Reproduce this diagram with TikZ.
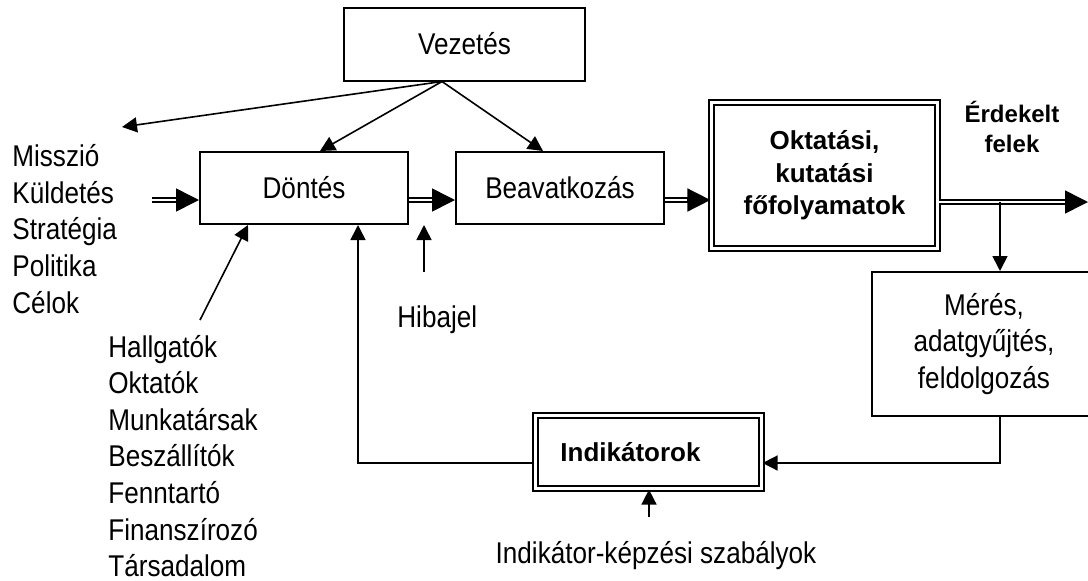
\documentclass[tikz,border=0pt]{standalone}
\usepackage{fontspec}
\setmainfont[FakeStretch=0.87]{Liberation Sans}
\newfontfamily\boldfam{Liberation Sans}
\usetikzlibrary{arrows.meta}
\newcommand{\RegText}{\fontsize{15}{18.3}\selectfont}
\newcommand{\BoldText}{\boldfam\bfseries\fontsize{13}{16.25}\selectfont}
\newcommand{\DblArrow}[3]{%
  \draw[Dbl] (#1) -- ([xshift=-10pt,yshift=#3]#2);
  \draw[BigTip] ([xshift=-11.5pt,yshift=#3]#2) -- ([yshift=#3]#2);}

\begin{document}
\begin{tikzpicture}[x=0.5pt,y=-0.5pt,font=\RegText]
  \tikzstyle{BoxStyle}=[draw,line width=1pt,inner sep=0pt,align=center]
  \tikzstyle{DoubleBox}=[draw,line width=1.1pt,double,double distance=1.2pt,inner sep=0pt,align=center,font=\BoldText]
  \tikzstyle{TextStyle}=[inner sep=0pt,align=left]
  \tikzstyle{Tip}=[line width=0.8pt,-{Triangle[length=7.5pt,width=7.5pt]}]
  \tikzstyle{BigTip}=[line width=0.8pt,-{Triangle[length=11.5pt,width=11.5pt]}]
  \tikzstyle{Dbl}=[line width=0.8pt,double,double distance=1.2pt]
  \useasboundingbox (0,0) rectangle (1088,580);
  \node[BoxStyle,minimum width=120.5pt,minimum height=36.5pt] (vez) at (464.5,44) {Vezetés};
  \node[BoxStyle,minimum width=104pt,minimum height=36pt] (dont) at (304,188) {Döntés};
  \node[BoxStyle,minimum width=104pt,minimum height=36pt] (beav) at (560,188) {Beavatkozás};
  \node[DoubleBox,minimum width=113pt,minimum height=73pt] (okt) at (824.5,175.5) {Oktatási,\\kutatási\\főfolyamatok};
  \node[BoxStyle,minimum width=112pt,minimum height=72pt] (meres) at (984,344) {Mérés,\\adatgyűjtés,\\feldolgozás};
  \node[DoubleBox,minimum width=113pt,minimum height=36.5pt] (ind) at (648.5,452) {Indikátorok\hspace*{18pt}};
  \node[TextStyle,anchor=base west] (misszio) at (12,313) {Misszió\\Küldetés\\Stratégia\\Politika\\Célok};
  \node[TextStyle,anchor=base west] (hallg) at (108,576.7) {Hallgatók\\Oktatók\\Munkatársak\\Beszállítók\\Fenntartó\\Finanszírozó\\Társadalom};
  \node[TextStyle,anchor=base west] (hiba) at (397,327) {Hibajel};
  \node[TextStyle,anchor=base] (szab) at (656,563) {Indikátor-képzési szabályok};
  \node[TextStyle,align=center,anchor=base,font=\boldfam\bfseries\fontsize{12}{15}\selectfont] (erd) at (1012,152) {Érdekelt\\felek};
  \coordinate (fan) at ([xshift=-11.25pt]vez.south);
  \coordinate (mis) at (122,127);
  \coordinate (in) at (152,200);
  \coordinate (out) at (1088,202);
  \coordinate (split) at (1000,202);
  \coordinate (hl) at (200,320);
  \coordinate (hb) at (424,272);
  \coordinate (rl) at (649,517);
  \draw[Tip] (fan) -- (mis);
  \draw[Tip] (fan) -- ([xshift=8pt]dont.north);
  \draw[Tip] (fan) -- ([xshift=-8.5pt]beav.north);
  \DblArrow{in}{dont.west}{-6pt}
  \DblArrow{[yshift=-6pt]dont.east}{beav.west}{-6pt}
  \DblArrow{[yshift=-6pt]beav.east}{okt.west}{-12.25pt}
  \DblArrow{[yshift=-13.25pt]okt.east}{out}{0pt}
  \draw[Tip] (split) -- (split |- meres.north);
  \draw[Tip] (split |- meres.south) |- ([yshift=-5.5pt]ind.east);
  \draw[Tip] ([yshift=-5.5pt]ind.west) -| ([xshift=27pt]dont.south);
  \draw[Tip] (hl) -- ([xshift=-28pt]dont.south);
  \draw[Tip] (hb) -- (hb |- dont.south);
  \draw[Tip] (rl) -- (rl |- ind.south);
\end{tikzpicture}
\end{document}
